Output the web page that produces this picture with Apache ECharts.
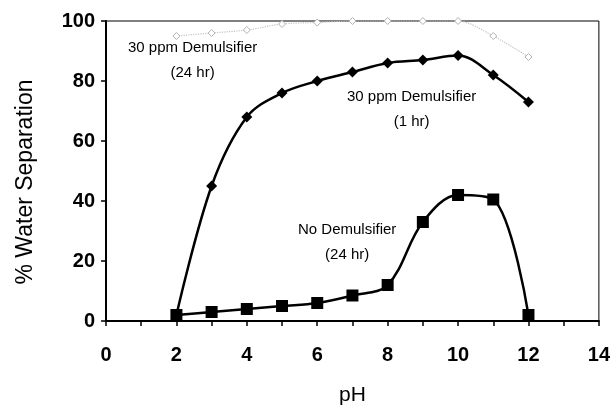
<!DOCTYPE html>
<html>
<head>
<meta charset="utf-8">
<script src="https://cdn.jsdelivr.net/npm/echarts@6/dist/echarts.min.js"></script>
<style>
  html, body { margin: 0; padding: 0; background: #fff; }
  #chart { width: 613px; height: 416px; }
</style>
</head>
<body>
<div id="chart"></div>
<script>
// pH values and % water separation
const phValues = [2, 3, 4, 5, 6, 7, 8, 9, 10, 11, 12];
const demuls1hr = [2, 45, 68, 76, 80, 83, 86, 87, 88.5, 82, 73];
const noDemuls24hr = [2, 3, 4, 5, 6, 8.5, 12, 33, 42, 40.5, 2];
const demuls24hr = [95, 96, 97, 99, 99.5, 100, 100, 100, 100, 95, 88];

const pairs = (ys) => phValues.map((x, i) => [x, ys[i]]);

const chart = echarts.init(document.getElementById('chart'));

const tickFont = {
  fontFamily: '"Liberation Sans", Arial, sans-serif',
  fontSize: 20,
  fontWeight: 'bold',
  color: '#000'
};
const noteFont = {
  fontFamily: '"Liberation Sans", Arial, sans-serif',
  fontSize: 15,
  fill: '#000',
  textAlign: 'center',
  lineHeight: 25
};

chart.setOption({
  animation: false,
  grid: {
    left: 106, right: 13, top: 21, bottom: 95,
    show: true, borderColor: '#000', borderWidth: 1
  },
  xAxis: {
    type: 'value',
    min: 0, max: 14, interval: 1,
    name: 'pH',
    nameLocation: 'middle',
    nameGap: 64,
    nameTextStyle: { fontFamily: 'Liberation Sans, Arial, sans-serif', fontSize: 21, color: '#000' },
    axisLine: { lineStyle: { color: '#000', width: 2 } },
    axisTick: { length: 5, lineStyle: { color: '#000', width: 1.5 } },
    axisLabel: Object.assign({ margin: 24, formatter: (v) => (v % 2 === 0 ? String(v) : '') }, tickFont),
    splitLine: { show: false }
  },
  yAxis: {
    type: 'value',
    min: 0, max: 100, interval: 20,
    name: '% Water Separation',
    nameLocation: 'middle',
    nameGap: 69,
    nameTextStyle: {
      fontFamily: 'Liberation Sans, Arial, sans-serif', fontSize: 23, color: '#000',
      padding: [0, 22, 0, 0]
    },
    axisLine: { lineStyle: { color: '#000', width: 2 } },
    axisTick: { length: 5, lineStyle: { color: '#000', width: 1.5 } },
    axisLabel: Object.assign({ margin: 11 }, tickFont),
    splitLine: { show: false }
  },
  series: [
    {
      name: '30 ppm Demulsifier (24 hr)',
      type: 'line',
      data: pairs(demuls24hr),
      smooth: 0.3,
      symbol: 'diamond',
      symbolSize: 7,
      lineStyle: { color: '#c4c4c4', width: 1.2, type: 'dotted' },
      itemStyle: { color: '#fff', borderColor: '#b0b0b0', borderWidth: 1 },
      z: 1
    },
    {
      name: '30 ppm Demulsifier (1 hr)',
      type: 'line',
      data: pairs(demuls1hr),
      smooth: 0.35,
      symbol: 'diamond',
      symbolSize: 11,
      lineStyle: { color: '#000', width: 2.5 },
      itemStyle: { color: '#000' },
      z: 3
    },
    {
      name: 'No Demulsifier (24 hr)',
      type: 'line',
      data: pairs(noDemuls24hr),
      smooth: 0.35,
      symbol: 'rect',
      symbolSize: 12,
      lineStyle: { color: '#000', width: 2.5 },
      itemStyle: { color: '#000' },
      z: 3
    }
  ],
  graphic: [
    { type: 'text', left: 128, top: 35, style: Object.assign({ text: '30 ppm Demulsifier\n(24 hr)' }, noteFont) },
    { type: 'text', left: 347, top: 84, style: Object.assign({ text: '30 ppm Demulsifier\n(1 hr)' }, noteFont) },
    { type: 'text', left: 298, top: 217, style: Object.assign({ text: 'No Demulsifier\n(24 hr)' }, noteFont) }
  ]
});
</script>
</body>
</html>
